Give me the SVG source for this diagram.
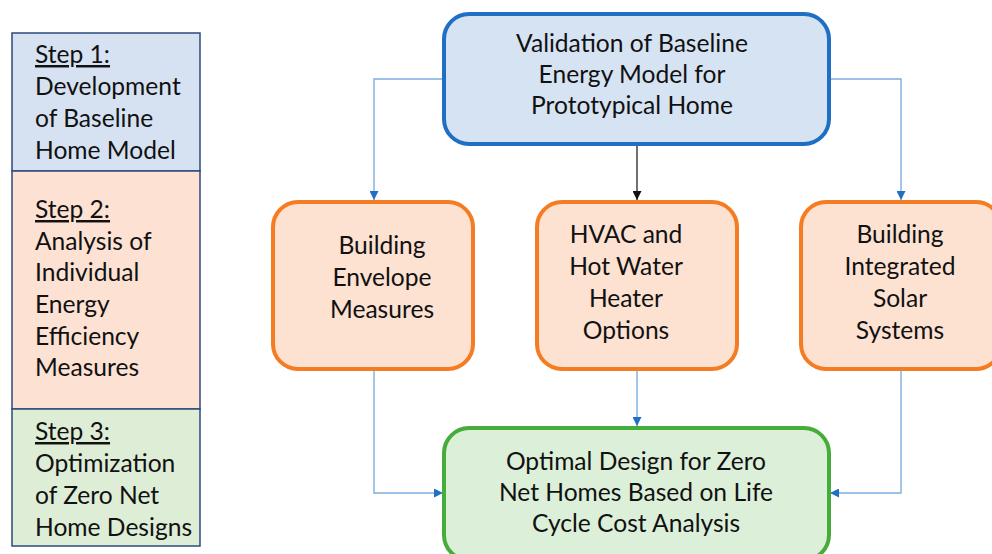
<svg xmlns="http://www.w3.org/2000/svg" width="992" height="554" viewBox="0 0 992 554">
<style>
text{font-family:Lato,"Open Sans","Liberation Sans",sans-serif;font-size:24.6px;fill:#111;}
.c{text-anchor:middle;}
.u{text-decoration:underline;}
.blue{fill:#d6e3f3;stroke:#1f6fc5;stroke-width:4;}
.orange{fill:#fde1d1;stroke:#f47c22;stroke-width:4;}
.green{fill:#dcefd8;stroke:#47ad3a;stroke-width:4;}
.cn{fill:none;stroke:#7eaee0;stroke-width:1.4;}
.cb{fill:none;stroke:#111;stroke-width:1.2;}
</style>
<defs>
<marker id="ab" viewBox="0 0 10 10" refX="10" refY="5" markerWidth="9" markerHeight="9" markerUnits="userSpaceOnUse" orient="auto"><path d="M0,0 L10,5 L0,10 Z" fill="#1f6fc5"/></marker>
<marker id="ak" viewBox="0 0 10 10" refX="10" refY="5" markerWidth="9" markerHeight="9" markerUnits="userSpaceOnUse" orient="auto"><path d="M0,0 L10,5 L0,10 Z" fill="#111"/></marker>
</defs>
<rect width="992" height="554" fill="#fff"/>
<g id="steps">
<rect x="12" y="33" width="188" height="138" fill="#d6e2f2" stroke="#2c4a7c" stroke-width="1.5"/>
<rect x="12" y="171" width="188" height="238" fill="#fde1d3" stroke="#2c4a7c" stroke-width="1.5"/>
<rect x="12" y="409" width="188" height="137" fill="#ddedd6" stroke="#2c4a7c" stroke-width="1.5"/>
<text x="35" y="63" class="u">Step 1:</text>
<text x="35" y="95">Development</text>
<text x="35" y="127">of Baseline</text>
<text x="35" y="159">Home Model</text>
<text x="35" y="218" class="u">Step 2:</text>
<text x="35" y="250">Analysis of</text>
<text x="35" y="281">Individual</text>
<text x="35" y="313">Energy</text>
<text x="35" y="345">Efficiency</text>
<text x="35" y="376">Measures</text>
<text x="35" y="440" class="u">Step 3:</text>
<text x="35" y="472">Optimization</text>
<text x="35" y="504">of Zero Net</text>
<text x="35" y="536">Home Designs</text>
</g>
<g id="connectors">
<path class="cn" d="M444,79 H374 V200" marker-end="url(#ab)"/>
<path class="cn" d="M829,79 H901 V200" marker-end="url(#ab)"/>
<path class="cb" d="M637,144 V200" marker-end="url(#ak)"/>
<path class="cn" d="M374,369 V493 H443" marker-end="url(#ab)"/>
<path class="cn" d="M901,369 V493 H830" marker-end="url(#ab)"/>
<path class="cn" d="M637,369 V426" marker-end="url(#ab)"/>
</g>
<g id="validation">
<rect class="blue" x="444" y="14" width="385" height="130" rx="25"/>
<text class="c" x="632" y="52">Validation of Baseline</text>
<text class="c" x="632" y="83">Energy Model for</text>
<text class="c" x="632" y="114">Prototypical Home</text>
</g>
<g id="envelope">
<rect class="orange" x="273" y="202" width="200" height="167" rx="25"/>
<text class="c" x="382" y="254">Building</text>
<text class="c" x="382" y="286">Envelope</text>
<text class="c" x="382" y="318">Measures</text>
</g>
<g id="hvac">
<rect class="orange" x="537" y="202" width="200" height="167" rx="25"/>
<text class="c" x="626" y="243">HVAC and</text>
<text class="c" x="626" y="275">Hot Water</text>
<text class="c" x="626" y="307">Heater</text>
<text class="c" x="626" y="339">Options</text>
</g>
<g id="solar">
<rect class="orange" x="801" y="202" width="200" height="167" rx="25"/>
<text class="c" x="900" y="243">Building</text>
<text class="c" x="900" y="275">Integrated</text>
<text class="c" x="900" y="307">Solar</text>
<text class="c" x="900" y="339">Systems</text>
</g>
<g id="optimal">
<rect class="green" x="444" y="428" width="385" height="132" rx="25"/>
<text class="c" x="636" y="470">Optimal Design for Zero</text>
<text class="c" x="636" y="501">Net Homes Based on Life</text>
<text class="c" x="636" y="532">Cycle Cost Analysis</text>
</g>
</svg>
